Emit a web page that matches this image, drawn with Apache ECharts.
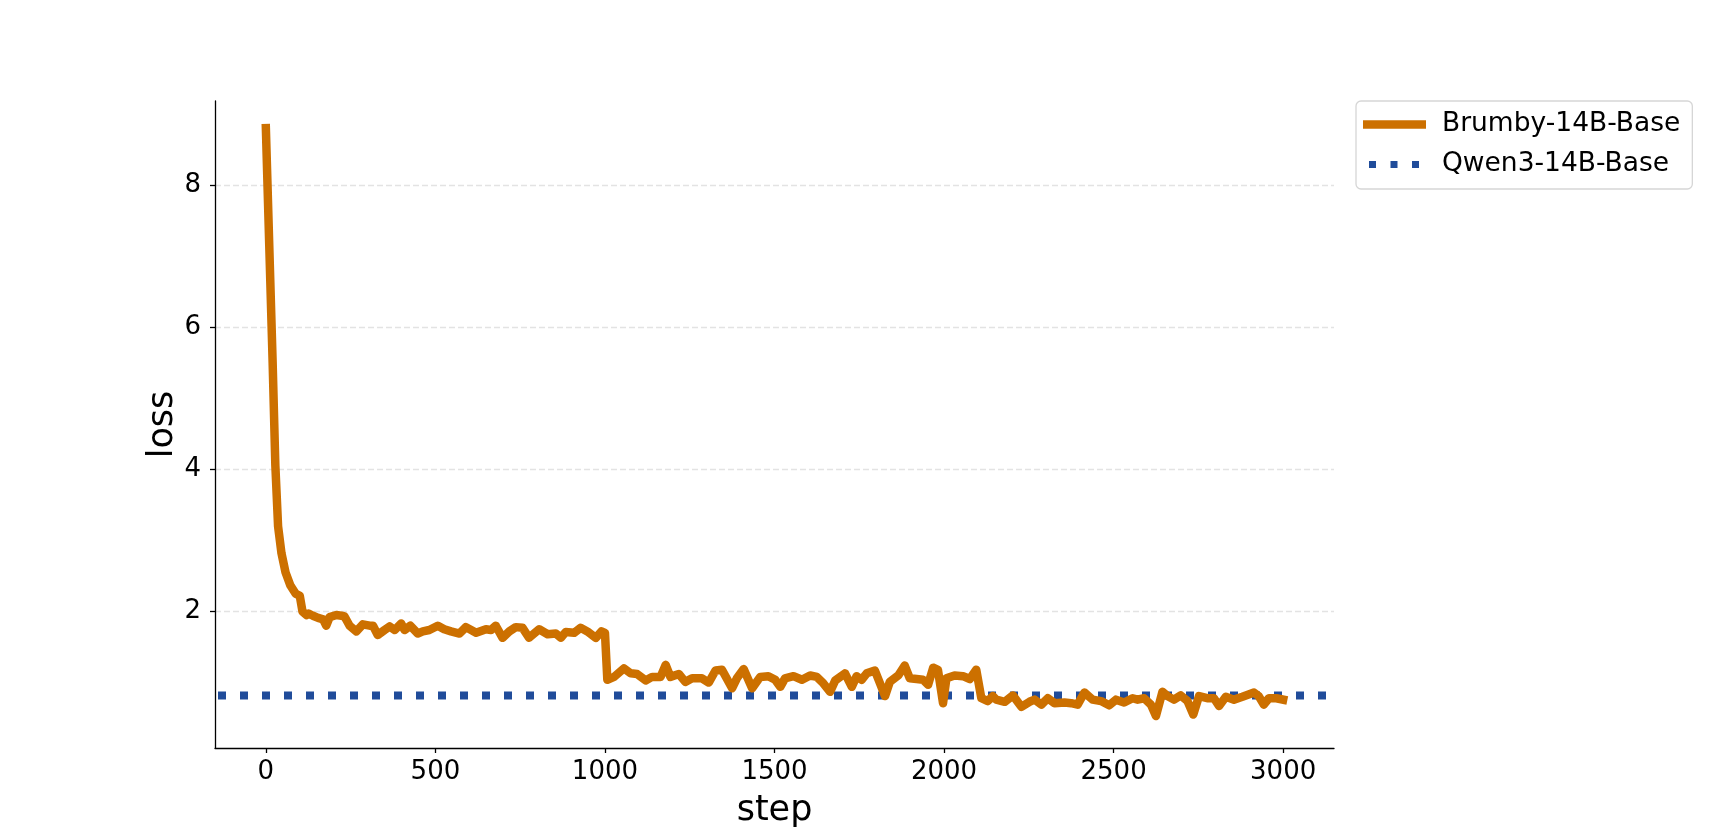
<!DOCTYPE html>
<html>
<head>
<meta charset="utf-8">
<script src="https://cdn.jsdelivr.net/npm/echarts@6/dist/echarts.min.js"></script>
<style>
html,body{margin:0;padding:0;background:#fff;}
#chart{width:1710px;height:840px;}
</style>
</head>
<body>
<div id="chart"></div>
<script>
// ---- data ----
const SERIES_NAMES = ['Brumby-14B-Base', 'Qwen3-14B-Base'];
const X_TICKS = [0, 500, 1000, 1500, 2000, 2500, 3000];
const Y_TICKS = [2, 4, 6, 8];
const STEPS = [
  0, 10, 20, 28, 36, 46, 58, 72, 88, 100, 104, 108, 120, 126, 139, 154, 169, 178, 188, 208,
  223, 232, 247, 267, 286, 306, 316, 330, 350, 365, 380, 399, 409, 426, 448, 463, 482, 507, 526, 546,
  571, 590, 620, 649, 664, 678, 698, 718, 737, 757, 776, 806, 831, 855, 870, 884, 909, 928, 948, 973,
  990, 1000, 1007, 1027, 1056, 1076, 1095, 1120, 1139, 1164, 1179, 1193, 1218, 1237, 1257, 1286, 1306, 1326, 1345, 1375,
  1389, 1409, 1434, 1458, 1482, 1502, 1517, 1531, 1556, 1581, 1605, 1625, 1644, 1664, 1679, 1708, 1728, 1742, 1757, 1772,
  1796, 1811, 1826, 1840, 1865, 1884, 1899, 1919, 1938, 1953, 1968, 1982, 1997, 2007, 2031, 2056, 2076, 2095, 2110, 2129,
  2144, 2154, 2179, 2203, 2228, 2252, 2267, 2287, 2306, 2326, 2355, 2375, 2394, 2414, 2438, 2463, 2487, 2507, 2531, 2556,
  2571, 2590, 2610, 2625, 2644, 2659, 2678, 2698, 2718, 2735, 2752, 2776, 2796, 2811, 2831, 2855, 2880, 2914, 2928, 2943,
  2958, 2980, 3000
];
const BRUMBY_LOSS = [
  8.80, 7.15, 5.50, 4.05, 3.20, 2.82, 2.55, 2.37, 2.25, 2.22, 2.20, 2.00, 1.95, 1.97, 1.94, 1.91, 1.89, 1.80, 1.92, 1.95,
  1.94, 1.93, 1.80, 1.72, 1.82, 1.80, 1.80, 1.67, 1.74, 1.79, 1.74, 1.83, 1.74, 1.80, 1.69, 1.72, 1.74, 1.80, 1.75, 1.72,
  1.69, 1.78, 1.70, 1.75, 1.74, 1.80, 1.63, 1.72, 1.78, 1.77, 1.63, 1.75, 1.68, 1.69, 1.63, 1.71, 1.70, 1.77, 1.72, 1.63,
  1.72, 1.70, 1.04, 1.08, 1.20, 1.13, 1.12, 1.03, 1.08, 1.08, 1.25, 1.08, 1.12, 1.01, 1.06, 1.06, 1.00, 1.17, 1.18, 0.92,
  1.06, 1.19, 0.92, 1.08, 1.09, 1.04, 0.94, 1.06, 1.09, 1.04, 1.10, 1.08, 0.99, 0.87, 1.03, 1.13, 0.94, 1.09, 1.04, 1.13,
  1.17, 0.99, 0.81, 1.01, 1.10, 1.24, 1.06, 1.05, 1.04, 0.97, 1.21, 1.18, 0.71, 1.06, 1.10, 1.09, 1.05, 1.18, 0.78, 0.74,
  0.81, 0.76, 0.73, 0.82, 0.66, 0.73, 0.76, 0.69, 0.78, 0.71, 0.72, 0.71, 0.69, 0.86, 0.76, 0.74, 0.68, 0.76, 0.72, 0.78,
  0.76, 0.78, 0.69, 0.53, 0.87, 0.81, 0.76, 0.82, 0.74, 0.55, 0.81, 0.78, 0.78, 0.67, 0.80, 0.76, 0.80, 0.86, 0.81, 0.69,
  0.78, 0.78, 0.76
];
const QWEN_LOSS = 0.82;
const X_MIN = -150, X_MAX = 3150;
const Y_MIN = 0.08, Y_MAX = 9.18;

const FONT = 'DejaVu Sans';
const ORANGE = '#CC7000';
const BLUE = '#204C9A';
const chart = echarts.init(document.getElementById('chart'), null, {renderer: 'canvas'});
const brumbyData = STEPS.map((s, i) => [s, BRUMBY_LOSS[i]]);
const qwenData = [[X_MIN, QWEN_LOSS], [X_MAX, QWEN_LOSS]];

const ICON_SOLID = 'path://M0,0H63V8.4H0Z';
const ICON_DOTS = 'path://M0,3.5H0.01V3.51H0Z M6,0H13V7H6Z M27.5,0H34.5V7H27.5Z M49,0H56V7H49Z M62.99,3.5H63V3.51H62.99Z';

chart.setOption({
  animation: false,
  backgroundColor: '#ffffff',
  grid: {left: 215, right: 376, top: 101, bottom: 92, containLabel: false},
  legend: {
    orient: 'vertical',
    left: 1356, top: 101,
    padding: [10, 12, 11, 7],
    itemWidth: 63, itemHeight: 26, itemGap: 13,
    backgroundColor: '#ffffff',
    borderColor: '#d6d6d6', borderWidth: 1.3, borderRadius: 5,
    itemStyle: {borderWidth: 0},
    textStyle: {fontFamily: FONT, fontSize: 26.5, color: '#000', lineHeight: 26, padding: [0, 0, 0, 11]},
    data: [
      {name: SERIES_NAMES[0], icon: ICON_SOLID, itemStyle: {color: ORANGE, borderWidth: 0}},
      {name: SERIES_NAMES[1], icon: ICON_DOTS, itemStyle: {color: BLUE, borderWidth: 0}}
    ]
  },
  xAxis: {
    type: 'value', min: X_MIN, max: X_MAX,
    name: 'step', nameLocation: 'middle', nameGap: 45,
    nameTextStyle: {fontFamily: FONT, fontSize: 35, color: '#000'},
    axisLine: {show: true, onZero: false, lineStyle: {color: '#000', width: 1.3}},
    axisTick: {show: true, length: 5, inside: false, customValues: X_TICKS, lineStyle: {color: '#000', width: 1.3}},
    axisLabel: {customValues: X_TICKS, formatter: v => String(v), fontFamily: FONT, fontSize: 26, color: '#000', margin: 11},
    splitLine: {show: false}
  },
  yAxis: {
    type: 'value', min: Y_MIN, max: Y_MAX,
    name: 'loss', nameLocation: 'middle', nameGap: 35, nameRotate: 90, nameMoveOverlap: false,
    nameTextStyle: {fontFamily: FONT, fontSize: 35, color: '#000'},
    axisLine: {show: true, onZero: false, lineStyle: {color: '#000', width: 1.3}},
    axisTick: {show: true, length: 5, inside: false, customValues: Y_TICKS, lineStyle: {color: '#000', width: 1.3}},
    axisLabel: {customValues: Y_TICKS, formatter: v => String(v), fontFamily: FONT, fontSize: 26, color: '#000', margin: 14},
    splitLine: {show: true, lineStyle: {color: '#e3e3e3', width: 1.3, type: [6, 3]}}
  },
  series: [
    {
      name: SERIES_NAMES[0], type: 'line', data: brumbyData,
      showSymbol: false, symbol: 'none', smooth: false, z: 3,
      lineStyle: {color: ORANGE, width: 8.5, join: 'round', cap: 'square'},
      itemStyle: {color: ORANGE}
    },
    {
      name: SERIES_NAMES[1], type: 'line', data: qwenData,
      showSymbol: false, symbol: 'none', z: 2,
      lineStyle: {color: BLUE, width: 8, type: [8, 14], dashOffset: -3, cap: 'butt'},
      itemStyle: {color: BLUE}
    }
  ]
});
</script>
</body>
</html>
